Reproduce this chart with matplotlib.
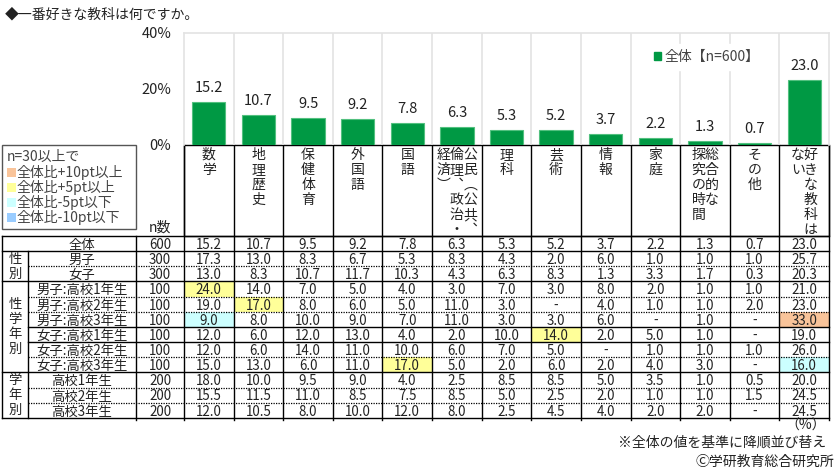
import matplotlib
matplotlib.use("Agg")
import matplotlib.pyplot as plt
from matplotlib.patches import Rectangle, Patch

plt.rcParams['font.family'] = ['Noto Sans CJK JP', 'DejaVu Sans']

title = "◆一番好きな教科は何ですか。"
subjects = ["数学", "地理歴史", "保健体育", "外国語", "国語",
            "公民（公共、倫理、政治・経済）", "理科", "芸術", "情報", "家庭",
            "総合的な探究の時間", "その他", "好きな教科はない"]
# how each header is split into vertical columns (right to left)
header_split = {
    "公民（公共、倫理、政治・経済）": ["公民（公共、", "倫理、政治・", "経済）"],
    "総合的な探究の時間": ["総合的な", "探究の時間"],
    "好きな教科はない": ["好きな教科は", "ない"],
}
total = [15.2, 10.7, 9.5, 9.2, 7.8, 6.3, 5.3, 5.2, 3.7, 2.2, 1.3, 0.7, 23.0]

row_labels = ["全体", "男子", "女子",
              "男子:高校1年生", "男子:高校2年生", "男子:高校3年生",
              "女子:高校1年生", "女子:高校2年生", "女子:高校3年生",
              "高校1年生", "高校2年生", "高校3年生"]
row_n = [600, 300, 300, 100, 100, 100, 100, 100, 100, 200, 200, 200]
N = None
rows = [
    total,
    [17.3, 13.0, 8.3, 6.7, 5.3, 8.3, 4.3, 2.0, 6.0, 1.0, 1.0, 1.0, 25.7],
    [13.0, 8.3, 10.7, 11.7, 10.3, 4.3, 6.3, 8.3, 1.3, 3.3, 1.7, 0.3, 20.3],
    [24.0, 14.0, 7.0, 5.0, 4.0, 3.0, 7.0, 3.0, 8.0, 2.0, 1.0, 1.0, 21.0],
    [19.0, 17.0, 8.0, 6.0, 5.0, 11.0, 3.0, N, 4.0, 1.0, 1.0, 2.0, 23.0],
    [9.0, 8.0, 10.0, 9.0, 7.0, 11.0, 3.0, 3.0, 6.0, N, 1.0, N, 33.0],
    [12.0, 6.0, 12.0, 13.0, 4.0, 2.0, 10.0, 14.0, 2.0, 5.0, 1.0, N, 19.0],
    [12.0, 6.0, 14.0, 11.0, 10.0, 6.0, 7.0, 5.0, N, 1.0, 1.0, 1.0, 26.0],
    [15.0, 13.0, 6.0, 11.0, 17.0, 5.0, 2.0, 6.0, 2.0, 4.0, 3.0, N, 16.0],
    [18.0, 10.0, 9.5, 9.0, 4.0, 2.5, 8.5, 8.5, 5.0, 3.5, 1.0, 0.5, 20.0],
    [15.5, 11.5, 11.0, 8.5, 7.5, 8.5, 5.0, 2.5, 2.0, 1.0, 1.0, 1.5, 24.5],
    [12.0, 10.5, 8.0, 10.0, 12.0, 8.0, 2.5, 4.5, 4.0, 2.0, 2.0, N, 24.5],
]
groups = [("性別", 1, 3), ("性学年別", 3, 9), ("学年別", 9, 12)]

legend_title = "n=30以上で"
legend_items = ["全体比+10pt以上", "全体比+5pt以上", "全体比-5pt以下", "全体比-10pt以下"]
legend_colors = ["#f9c49a", "#ffff99", "#ccffff", "#99ccff"]

GREEN = "#009944"
TXT = "#222222"
FS = 10
TFS = 9.6

fig = plt.figure(figsize=(8.4, 4.72), dpi=100)

# pixel overlay for table / header
ov = fig.add_axes([0, 0, 1, 1])
ov.set_xlim(0, 840)
ov.set_ylim(472, 0)
ov.axis("off")

X0, X1 = 184, 829
W = (X1 - X0) / len(subjects)
HT, TT = 145, 236
RH = 15.15
TB = TT + RH * len(rows)


def cx(i):
    return X0 + (i + 0.5) * W


# bar chart
ax = fig.add_axes([X0 / 840, (472 - 144.5) / 472, (X1 - X0) / 840, (144.5 - 33) / 472])
xs = list(range(len(subjects)))
ax.bar(xs, total, width=0.67, color=GREEN, edgecolor="#52c07f", linewidth=0.8, zorder=3)
for x, v in zip(xs, total):
    ax.annotate(f"{v:.1f}", (x, v), xytext=(0, 10), textcoords="offset points",
                ha="center", va="center", fontsize=10.5, color=TXT)
ax.set_xlim(-0.5, len(subjects) - 0.5)
ax.set_ylim(0, 40)
ax.set_yticks([0, 20, 40])
ax.set_yticklabels(["0%", "20%", "40%"], fontsize=10.5, color=TXT)
ax.tick_params(axis="y", length=0, pad=9)
ax.set_xticks([])
for b in [i + 0.5 for i in range(len(subjects) - 1)]:
    ax.axvline(b, color="#e3e3e3", lw=1.2, zorder=1)
for s in ["left", "top", "right"]:
    ax.spines[s].set_color("#e3e3e3")
    ax.spines[s].set_linewidth(1.2)
ax.spines["bottom"].set_visible(False)
ax.set_facecolor("none")
leg = ax.legend([Patch(color=GREEN)], ["全体【n=600】"], loc="center",
                bbox_to_anchor=(0.81, 0.785), fontsize=FS, frameon=True,
                fancybox=False, handlelength=0.55, handleheight=0.55,
                handletextpad=0.2, borderpad=0.4, labelcolor="#444444")
leg.get_frame().set_edgecolor("white")
leg.get_frame().set_facecolor("white")
leg.get_frame().set_alpha(1)

fig.text(5 / 840, 1 - 14 / 472, title, fontsize=FS, color=TXT, va="center")

# header (vertical text)
vert = {"（": "︵", "）": "︶", "、": "︑"}
ov.add_patch(Rectangle((X0, HT), X1 - X0, TT - HT, fill=False, ec="black", lw=1))
for i, s in enumerate(subjects):
    cols = header_split.get(s, [s])
    n = len(cols)
    offs = {1: [0], 2: [6.5, -6.5], 3: [13.5, 0, -13.5]}[n]
    for c, o in zip(cols, offs):
        for j, ch in enumerate(c):
            ov.text(cx(i) + o, 155 + j * 15, vert.get(ch, ch), ha="center", va="center",
                    fontsize=FS, color=TXT)

# colour legend box
ov.add_patch(Rectangle((2, HT), 134, 84, fill=False, ec="#555555", lw=1))
ov.text(7, 157, legend_title, fontsize=FS, color="#444444", va="center")
for k, (lab, col) in enumerate(zip(legend_items, legend_colors)):
    y = 172 + k * 15.2
    ov.add_patch(Rectangle((7, y - 4.5), 9, 9, color=col, lw=0))
    ov.text(17, y, lab, fontsize=FS, color="#444444", va="center")
ov.text(160, 228, "n数", fontsize=FS, color=TXT, ha="center", va="center")

# table cells
for r, (lab, n, vals) in enumerate(zip(row_labels, row_n, rows)):
    yb = TT + (r + 1) * RH - 2.2
    ov.text(82, yb, lab, ha="center", va="baseline", fontsize=TFS, color=TXT)
    ov.text(160, yb, str(n), ha="center", va="baseline", fontsize=TFS, color=TXT)
    for i, v in enumerate(vals):
        if v is None:
            txt = "-"
        else:
            txt = f"{v:.1f}"
            d = v - total[i]
            col = None
            if r > 0 and n >= 30:
                if d >= 10 - 1e-9:
                    col = legend_colors[0]
                elif d >= 5 - 1e-9:
                    col = legend_colors[1]
                elif d <= -10 + 1e-9:
                    col = legend_colors[3]
                elif d <= -5 + 1e-9:
                    col = legend_colors[2]
            if col:
                ov.add_patch(Rectangle((X0 + i * W, TT + r * RH), W, RH, color=col, lw=0, zorder=0))
        ov.text(cx(i), yb, txt, ha="center", va="baseline", fontsize=TFS, color=TXT)

for g, r0, r1 in groups:
    yc = TT + (r0 + r1) / 2 * RH
    for j, ch in enumerate(g):
        ov.text(15, yc + (j - (len(g) - 1) / 2) * 15, ch, ha="center", va="center",
                fontsize=TFS, color=TXT)

# table lines
solid_full = [0, 1, 3, 9, 12]
solid_part = [6, 7]
for r in range(len(rows) + 1):
    y = TT + r * RH
    if r in solid_full:
        ov.plot([2, X1], [y, y], color="black", lw=1)
    elif r in solid_part:
        ov.plot([28, X1], [y, y], color="black", lw=1)
    else:
        ov.plot([28, X1], [y, y], color="black", lw=0.9, ls=(0, (1, 1)))
ov.plot([2, 2], [TT, TB], color="black", lw=1)
ov.plot([28, 28], [TT + RH, TB], color="black", lw=1)
ov.plot([136, 136], [TT, TB + 2], color="black", lw=1)
for k in range(len(subjects) + 1):
    x = X0 + k * W
    ov.plot([x, x], [HT, TB + 2], color="black", lw=1)

ov.text(826, 426, "（%）", ha="right", va="center", fontsize=FS, color=TXT)
ov.text(826, 443, "※全体の値を基準に降順並び替え", ha="right", va="center", fontsize=FS, color=TXT)
ov.text(834, 462, "Ⓒ学研教育総合研究所", ha="right", va="center", fontsize=FS, color=TXT)

fig.savefig("out.png", dpi=100)
